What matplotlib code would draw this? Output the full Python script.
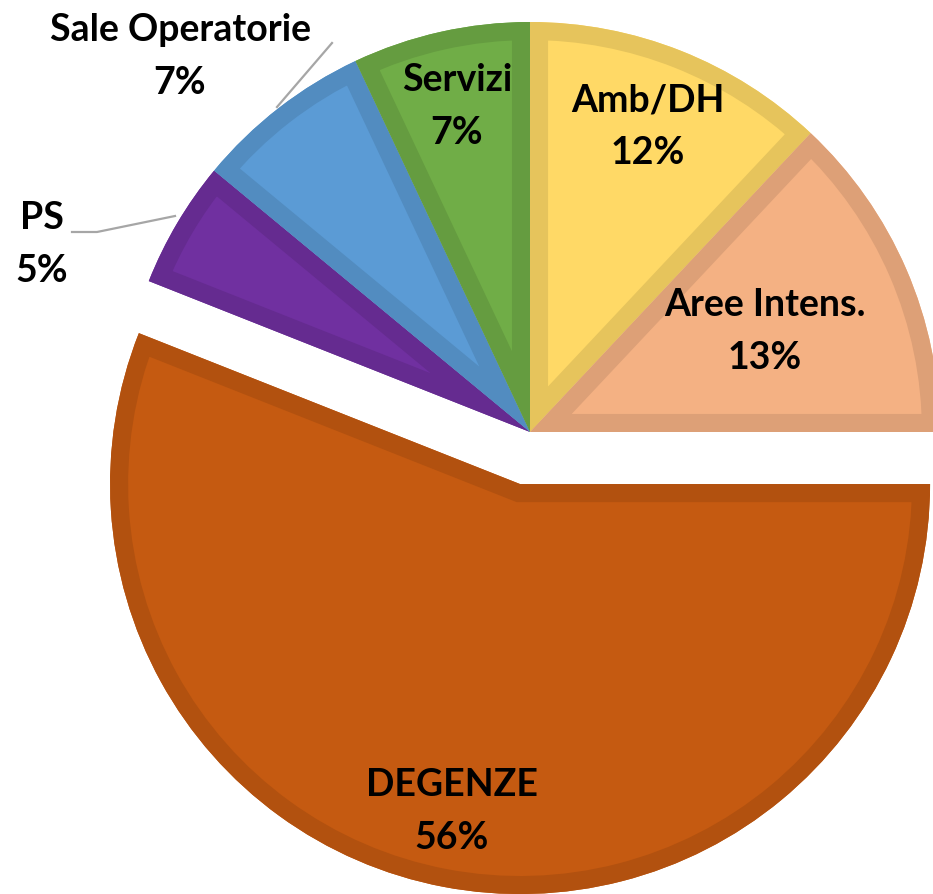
import matplotlib
matplotlib.use("Agg")
import matplotlib.pyplot as plt
import matplotlib.patches as mpatches

# slice data (clockwise from 12 o'clock)
labels = ["Amb/DH", "Aree Intens.", "DEGENZE", "PS", "Sale Operatorie", "Servizi"]
values = [12, 13, 56, 5, 7, 7]
fill_colors = ["#FFD966", "#F4B183", "#C55A11", "#7030A0", "#5B9BD5", "#70AD47"]
edge_colors = ["#E6C45C", "#DDA077", "#B2510F", "#652B90", "#528CC0", "#659C40"]

# label placement in image pixels (x, y from top)
label_pos = [(648, 100), (765, 305), (452, 785), (42, 218), (180, 30), (457, 80)]

W, H = 933, 894
fig = plt.figure(figsize=(W / 100, H / 100), dpi=100)
ax = fig.add_axes([0, 0, 1, 1])

center = (530, H - 432)
radius = 410
explode = [0, 0, 53, 0, 0, 0]

wedges, _ = ax.pie(values, startangle=90, counterclock=False, center=center,
                   radius=radius, explode=explode, colors=fill_colors,
                   wedgeprops=dict(linewidth=0))

# darker inner border: thick stroke of a copy, clipped to the original wedge
for w, ec in zip(wedges, edge_colors):
    rim = mpatches.Wedge(w.center, w.r, w.theta1, w.theta2, facecolor="none",
                         edgecolor=ec, linewidth=26, joinstyle="miter")
    ax.add_patch(rim)
    rim.set_clip_path(w)

for lab, val, (x, y) in zip(labels, values, label_pos):
    ax.text(x, H - y, lab, ha="center", va="center", fontsize=27,
            fontweight="bold", family="Lato", color="black")
    ax.text(x, H - y - 53, f"{val}%", ha="center", va="center", fontsize=27,
            fontweight="bold", family="Lato", color="black")

# leader lines
ax.plot([332, 277], [H - 43, H - 107], color="#A6A6A6", lw=1.6)
ax.plot([72, 97, 175], [H - 232, H - 232, H - 216], color="#A6A6A6", lw=1.6)

ax.set_xlim(0, W)
ax.set_ylim(0, H)
ax.set_aspect("equal")
ax.axis("off")

fig.savefig("out.png", dpi=100)
